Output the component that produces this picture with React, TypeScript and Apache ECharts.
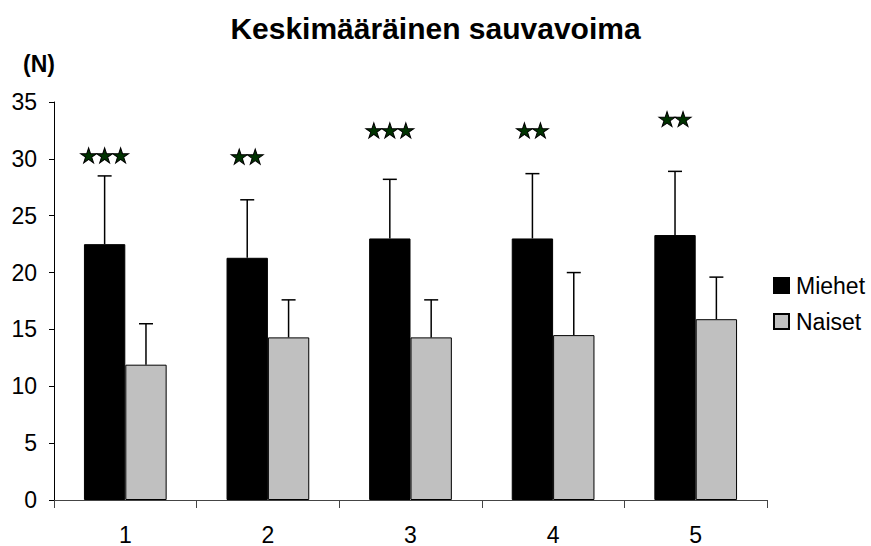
import React, { useEffect, useRef } from "react";
import * as echarts from "echarts";

const categories = ["1", "2", "3", "4", "5"];
const miehet = [22.5, 21.3, 23.0, 23.0, 23.3];
const miehetErrTop = [28.5, 26.4, 28.2, 28.7, 28.9];
const naiset = [11.9, 14.3, 14.3, 14.5, 15.9];
const naisetErrTop = [15.5, 17.6, 17.6, 20.0, 19.6];
const starCounts = [3, 2, 3, 2, 2];
const starLevels = [30.3, 30.2, 32.5, 32.5, 33.5];
const yTicks = [0, 5, 10, 15, 20, 25, 30, 35];

const FONT = "Liberation Sans, Arial, sans-serif";
const BAR_FRAC = 0.29;
const STAR_PATH =
  "path://M12 0 L14.7 8.28 L23.41 8.29 L16.37 13.42 L19.05 21.71 L12 16.6 L4.95 21.71 L7.63 13.42 L0.59 8.29 L9.3 8.28 Z";

function errorSeries(name: string, vals: number[], tops: number[], side: number) {
  return {
    type: "custom",
    name: name + "-err",
    z: 5,
    data: vals.map((v, i) => [i, v, tops[i]]),
    encode: { x: 0, y: [1, 2] },
    renderItem: (params: any, api: any) => {
      const cw = api.size([1, 0])[0];
      const off = (side * cw * BAR_FRAC) / 2;
      const b = api.coord([api.value(0), api.value(1)]);
      const t = api.coord([api.value(0), api.value(2)]);
      const x = b[0] + off;
      return {
        type: "group",
        children: [
          { type: "line", shape: { x1: x, y1: b[1], x2: x, y2: t[1] }, style: { stroke: "#000", lineWidth: 1.5 } },
          { type: "line", shape: { x1: x - 7, y1: t[1], x2: x + 7, y2: t[1] }, style: { stroke: "#000", lineWidth: 1.5 } },
        ],
      };
    },
  };
}

export default function App() {
  const ref = useRef<HTMLDivElement>(null);
  useEffect(() => {
    if (!ref.current) return;
    const chart = echarts.init(ref.current, null, { renderer: "svg" });
    const gridLeft = 54;
    const gridRight = 104;
    const cw = (871 - gridLeft - gridRight) / categories.length;
    const barCenter = -(cw * BAR_FRAC) / 2;
    const starData: any[] = [];
    starCounts.forEach((n, i) => {
      for (let k = 0; k < n; k++) {
        const dx = barCenter + (k - (n - 1) / 2) * 16;
        starData.push({ value: [i, starLevels[i]], symbolOffset: [dx, 0] });
      }
    });
    chart.setOption({
      animation: false,
      backgroundColor: "#fff",
      title: {
        text: "Keskimääräinen sauvavoima",
        left: "center",
        top: 8,
        textStyle: { fontFamily: FONT, fontSize: 30, fontWeight: "bold", color: "#000" },
      },
      graphic: [
        {
          type: "text",
          left: 23,
          top: 52,
          style: { text: "(N)", font: "bold 23px " + FONT, fill: "#000" },
        },
      ],
      legend: {
        orient: "vertical",
        left: 773,
        top: 274,
        padding: 0,
        itemWidth: 15,
        itemHeight: 15,
        itemGap: 13,
        icon: "rect",
        data: ["Miehet", "Naiset"],
        textStyle: { fontFamily: FONT, fontSize: 23, color: "#000", padding: [0, 0, 0, 2] },
      },
      grid: { left: gridLeft, right: gridRight, top: 102, bottom: 44 },
      xAxis: {
        type: "category",
        data: categories,
        axisLine: { lineStyle: { color: "#444", width: 1 } },
        axisTick: { show: true, length: 8, lineStyle: { color: "#444" } },
        axisLabel: { fontFamily: FONT, fontSize: 23, color: "#000", margin: 23 },
      },
      yAxis: {
        type: "value",
        min: yTicks[0],
        max: yTicks[yTicks.length - 1],
        interval: 5,
        splitLine: { show: false },
        axisLine: { show: true, lineStyle: { color: "#000", width: 1 } },
        axisTick: { show: true, length: 5, lineStyle: { color: "#000" } },
        axisLabel: { fontFamily: FONT, fontSize: 23, color: "#000", margin: 17 },
      },
      series: [
        {
          type: "bar",
          name: "Miehet",
          data: miehet,
          barWidth: BAR_FRAC * 100 + "%",
          barGap: "0%",
          itemStyle: { color: "#000", borderColor: "#000", borderWidth: 1 },
        },
        {
          type: "bar",
          name: "Naiset",
          data: naiset,
          barWidth: BAR_FRAC * 100 + "%",
          barGap: "0%",
          itemStyle: { color: "#c0c0c0", borderColor: "#000", borderWidth: 1 },
        },
        errorSeries("Miehet", miehet, miehetErrTop, -1),
        errorSeries("Naiset", naiset, naisetErrTop, 1),
        {
          type: "scatter",
          name: "stars",
          data: starData,
          symbol: STAR_PATH,
          symbolSize: [16, 15],
          z: 6,
          itemStyle: { color: "#003300", borderColor: "#000", borderWidth: 1, opacity: 1 },
        },
      ],
    });
    return () => chart.dispose();
  }, []);
  return (
    <div
      ref={ref}
      style={{ position: "absolute", left: 0, top: 0, width: 871, height: 546 }}
    />
  );
}
